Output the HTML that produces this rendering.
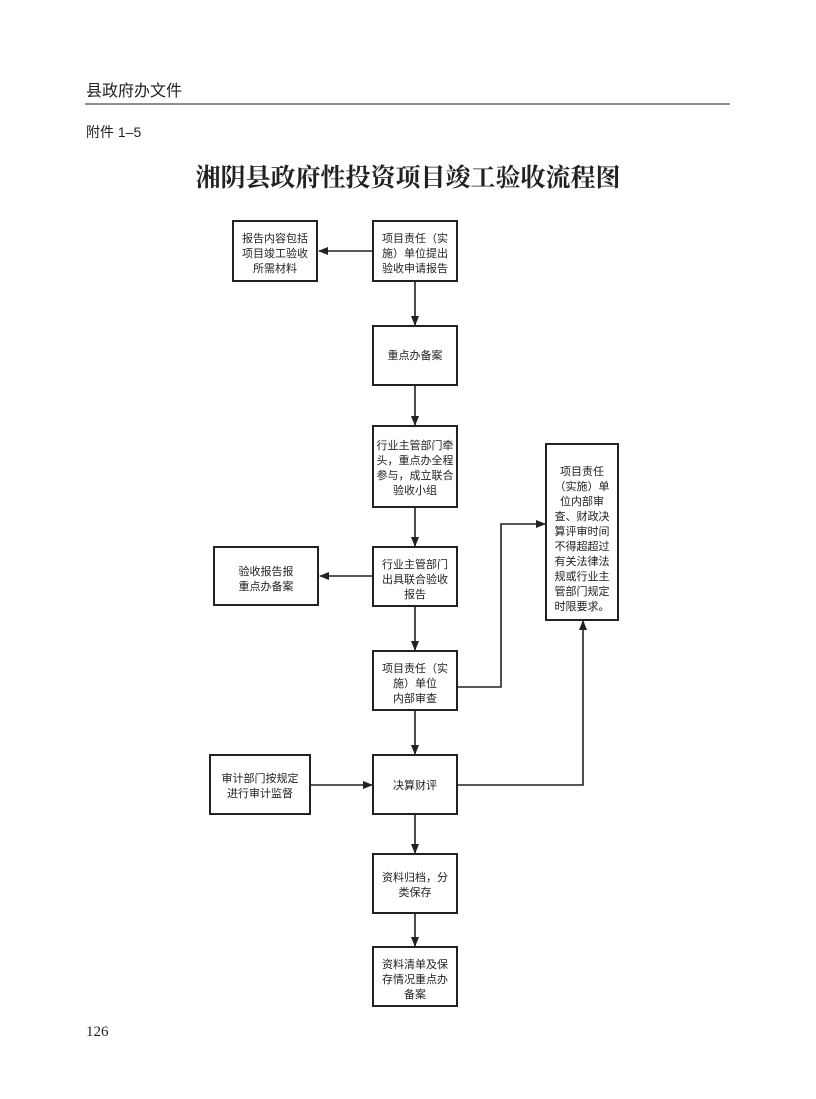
<!DOCTYPE html>
<html><head><meta charset="utf-8"><style>
body{margin:0;background:#fff;}
svg{display:block}
text{font-family:"Liberation Sans","Noto Sans CJK SC",sans-serif;fill:#222}
.b{fill:#fff;stroke:#222;stroke-width:2}
.l{stroke:#222;stroke-width:1.6;fill:none}
.t{font-size:11px;text-anchor:middle}
</style></head><body>
<svg width="816" height="1099" viewBox="0 0 816 1099">
<defs><marker id="a" markerWidth="10" markerHeight="8" refX="9" refY="4" orient="auto" markerUnits="userSpaceOnUse"><path d="M0,0L10,4L0,8z" fill="#222"/></marker></defs>
<text x="86" y="96" style="font-size:16px">县政府办文件</text>
<line x1="85" y1="104" x2="730" y2="104" stroke="#222" stroke-width="1"/>
<text x="86" y="137" style="font-size:14px">附件 1–5</text>
<text x="408" y="186" style="font-size:25px;font-weight:bold;text-anchor:middle;font-family:'Noto Serif CJK SC','Liberation Serif',serif">湘阴县政府性投资项目竣工验收流程图</text>
<text x="86" y="1036" style="font-size:15px;font-family:'Liberation Serif',serif">126</text>

<rect class="b" x="233" y="221" width="84" height="60"/>
<text class="t" x="275" y="242">报告内容包括</text><text class="t" x="275" y="257">项目竣工验收</text><text class="t" x="275" y="272">所需材料</text>
<rect class="b" x="373" y="221" width="84" height="60"/>
<text class="t" x="415" y="242">项目责任（实</text><text class="t" x="415" y="257">施）单位提出</text><text class="t" x="415" y="272">验收申请报告</text>
<line class="l" x1="373" y1="251" x2="319" y2="251" marker-end="url(#a)"/>
<line class="l" x1="415" y1="281" x2="415" y2="325" marker-end="url(#a)"/>

<rect class="b" x="373" y="326" width="84" height="59"/>
<text class="t" x="415" y="359">重点办备案</text>
<line class="l" x1="415" y1="385" x2="415" y2="425" marker-end="url(#a)"/>

<rect class="b" x="373" y="426" width="84" height="81"/>
<text class="t" x="415" y="449">行业主管部门牵</text><text class="t" x="415" y="464">头，重点办全程</text><text class="t" x="415" y="479">参与，成立联合</text><text class="t" x="415" y="494">验收小组</text>
<line class="l" x1="415" y1="507" x2="415" y2="546" marker-end="url(#a)"/>

<rect class="b" x="214" y="547" width="104" height="58"/>
<text class="t" x="266" y="575">验收报告报</text><text class="t" x="266" y="590">重点办备案</text>
<rect class="b" x="373" y="547" width="84" height="59"/>
<text class="t" x="415" y="568">行业主管部门</text><text class="t" x="415" y="583">出具联合验收</text><text class="t" x="415" y="598">报告</text>
<line class="l" x1="373" y1="576" x2="320" y2="576" marker-end="url(#a)"/>
<line class="l" x1="415" y1="606" x2="415" y2="650" marker-end="url(#a)"/>

<rect class="b" x="546" y="444" width="72" height="176"/>
<text class="t" x="582" y="475">项目责任</text><text class="t" x="582" y="490">（实施）单</text><text class="t" x="582" y="505">位内部审</text><text class="t" x="582" y="520">查、财政决</text><text class="t" x="582" y="535">算评审时间</text><text class="t" x="582" y="550">不得超超过</text><text class="t" x="582" y="565">有关法律法</text><text class="t" x="582" y="580">规或行业主</text><text class="t" x="582" y="595">管部门规定</text><text class="t" x="582" y="610">时限要求。</text>

<rect class="b" x="373" y="651" width="84" height="59"/>
<text class="t" x="415" y="672">项目责任（实</text><text class="t" x="415" y="687">施）单位</text><text class="t" x="415" y="702">内部审查</text>
<polyline class="l" points="457,687 501,687 501,524 545,524" marker-end="url(#a)"/>
<line class="l" x1="415" y1="710" x2="415" y2="754" marker-end="url(#a)"/>

<rect class="b" x="210" y="755" width="100" height="59"/>
<text class="t" x="260" y="782">审计部门按规定</text><text class="t" x="260" y="797">进行审计监督</text>
<rect class="b" x="373" y="755" width="84" height="59"/>
<text class="t" x="415" y="789">决算财评</text>
<line class="l" x1="310" y1="785" x2="372" y2="785" marker-end="url(#a)"/>
<polyline class="l" points="457,785 583,785 583,621" marker-end="url(#a)"/>
<line class="l" x1="415" y1="814" x2="415" y2="853" marker-end="url(#a)"/>

<rect class="b" x="373" y="854" width="84" height="59"/>
<text class="t" x="415" y="881">资料归档，分</text><text class="t" x="415" y="896">类保存</text>
<line class="l" x1="415" y1="913" x2="415" y2="946" marker-end="url(#a)"/>

<rect class="b" x="373" y="947" width="84" height="59"/>
<text class="t" x="415" y="968">资料清单及保</text><text class="t" x="415" y="983">存情况重点办</text><text class="t" x="415" y="998">备案</text>
</svg>
</body></html>
